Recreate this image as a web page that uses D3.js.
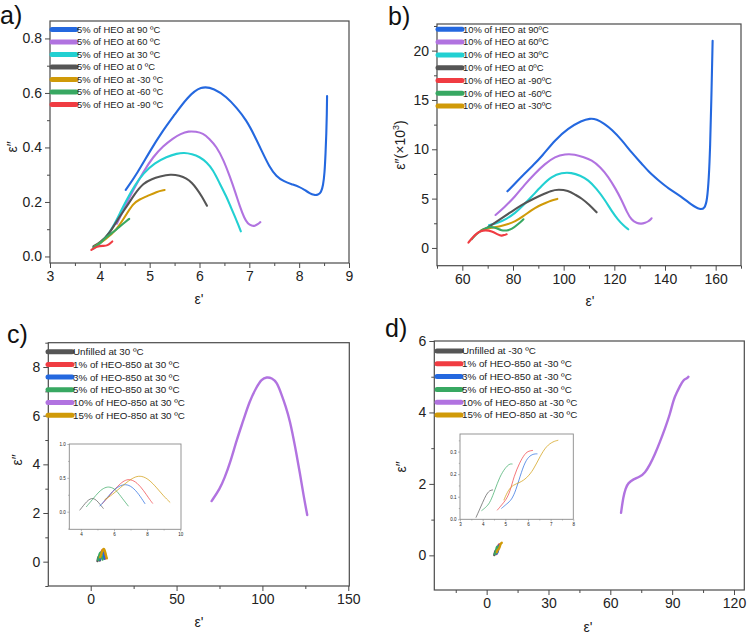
<!DOCTYPE html>
<html><head><meta charset="utf-8">
<script src="https://cdn.jsdelivr.net/npm/d3@7/dist/d3.min.js"></script>
<style>body{margin:0;background:#fff}svg{display:block}</style>
</head><body>
<script>
// ---------- DATA ----------
// Panel a: 5% HEO at various temperatures (ε', ε″)
const aLabels = ["5% of HEO at 90 \u00BAC","5% of HEO at 60 \u00BAC","5% of HEO at 30 \u00BAC","5% of HEO at 0 \u00BAC","5% of HEO at -30 \u00BAC","5% of HEO at -60 \u00BAC","5% of HEO at -90 \u00BAC"];
const a90 = [[4.52,0.244],[4.75,0.305],[5.0,0.385],[5.25,0.458],[5.5,0.52],[5.75,0.583],[6.03,0.627],[6.3,0.616],[6.54,0.586],[6.75,0.545],[6.94,0.50],[7.1,0.445],[7.27,0.379],[7.4,0.33],[7.54,0.293],[7.7,0.275],[7.85,0.265],[8.0,0.256],[8.12,0.243],[8.21,0.232],[8.3,0.225],[8.38,0.226],[8.44,0.235],[8.48,0.26],[8.51,0.305],[8.53,0.38],[8.545,0.45],[8.555,0.52],[8.56,0.589]];
const a60 = [[4.34,0.12],[4.5,0.18],[4.67,0.244],[4.87,0.31],[5.07,0.366],[5.27,0.405],[5.47,0.434],[5.62,0.45],[5.78,0.46],[5.93,0.458],[6.07,0.452],[6.2,0.432],[6.34,0.403],[6.48,0.355],[6.61,0.293],[6.72,0.235],[6.81,0.183],[6.9,0.14],[6.97,0.12],[7.05,0.112],[7.11,0.112],[7.17,0.118],[7.22,0.126]];
const a30 = [[3.88,0.03],[4.0,0.045],[4.15,0.075],[4.3,0.12],[4.42,0.165],[4.54,0.208],[4.7,0.26],[4.87,0.305],[5.1,0.343],[5.34,0.366],[5.55,0.378],[5.69,0.381],[5.85,0.376],[6.0,0.366],[6.15,0.345],[6.27,0.318],[6.4,0.27],[6.54,0.22],[6.63,0.18],[6.71,0.147],[6.78,0.115],[6.83,0.092]];
const a0 = [[3.87,0.037],[4.0,0.05],[4.2,0.085],[4.37,0.14],[4.54,0.183],[4.7,0.23],[4.87,0.269],[5.05,0.285],[5.2,0.293],[5.42,0.302],[5.6,0.297],[5.74,0.287],[5.85,0.27],[5.94,0.25],[6.05,0.22],[6.15,0.186]];
const aM30 = [[3.9,0.037],[4.1,0.06],[4.34,0.098],[4.5,0.145],[4.67,0.195],[4.8,0.21],[4.94,0.22],[5.14,0.238],[5.3,0.244]];
const aM60 = [[3.86,0.03],[4.0,0.048],[4.14,0.073],[4.28,0.09],[4.4,0.11],[4.5,0.125],[4.59,0.138]];
const aM90 = [[3.83,0.024],[3.94,0.037],[4.07,0.039],[4.15,0.039],[4.25,0.055]];
const aXTicks = [3,4,5,6,7,8,9];
const aYTicks = [0,0.2,0.4,0.6,0.8];

// Panel b: 10% HEO (ε″ ×10^3)
const bLabels = ["10% of HEO at 90\u00BAC","10% of HEO at 60\u00BAC","10% of HEO at 30\u00BAC","10% of HEO at 0\u00BAC","10% of HEO at -90\u00BAC","10% of HEO at -60\u00BAC","10% of HEO at -30\u00BAC"];
const b90 = [[77.8,5.74],[81,6.6],[84.7,7.57],[88,8.4],[91.3,9.26],[96.6,10.95],[101.8,12.13],[107.1,12.9],[110.4,13.14],[113,13.05],[116,12.6],[119,12.0],[122.9,10.95],[127,9.6],[130.7,8.58],[134,7.6],[137.3,6.89],[141.2,6.05],[146.5,5.2],[150.5,4.36],[153.8,3.85],[155.7,4.02],[156.6,4.8],[157.3,7],[157.8,10],[158.3,15],[158.8,21]];
const b60 = [[73.1,3.34],[76.5,4.1],[80.8,5.2],[84.5,6.4],[88.7,7.57],[92.5,8.5],[96.6,9.26],[100.5,9.53],[104.4,9.5],[108,9.2],[111,8.92],[114.5,8.2],[117.6,7.23],[120.5,6.0],[122.9,4.86],[125,3.6],[126.8,2.84],[128.8,2.5],[130.7,2.43],[132.2,2.55],[133.4,2.67],[134.7,3.0]];
const b30 = [[70.5,2.3],[74.2,2.55],[77.5,2.95],[80.8,3.51],[84,4.3],[87.4,5.2],[91.3,6.3],[95.2,7.23],[99.2,7.63],[103.1,7.63],[106.5,7.35],[109.7,6.89],[113,6.0],[116.3,4.86],[119,3.7],[121.5,2.84],[123.5,2.3],[125.5,1.89]];
const b0 = [[68.9,1.9],[72,2.4],[75.5,3.0],[79.5,3.7],[83.4,4.36],[87.4,4.9],[91.3,5.37],[95,5.8],[97.9,5.95],[101.8,5.81],[104.5,5.4],[107.1,5.03],[110,4.4],[113,3.61]];
const bM90 = [[62.4,0.54],[64,1.05],[65.7,1.49],[67.3,1.7],[68.9,1.82],[71.6,1.72],[74.2,1.32],[75.5,1.22],[76.5,1.3],[77.5,1.39]];
const bM60 = [[63.7,0.88],[65.5,1.4],[67.6,1.82],[69.5,2.05],[71.6,2.16],[73.5,2.0],[75.5,1.76],[77.5,1.75],[79.5,1.89],[82,2.4],[84.1,2.9]];
const bM30 = [[67.6,1.82],[71.6,2.05],[75.5,2.23],[78,2.4],[80.8,2.67],[84,3.2],[87.4,3.85],[90,4.25],[92.6,4.53],[95,4.8],[97.5,4.97]];
const bXTicks = [60,80,100,120,140,160];
const bYTicks = [0,5,10,15,20];

// Panel c: HEO-850 loadings at 30 °C
const cLabels = ["Unfilled at 30 \u00BAC","1% of HEO-850 at 30 \u00BAC","3% of HEO-850 at 30 \u00BAC","5% of HEO-850 at 30 \u00BAC","10% of HEO-850 at 30 \u00BAC","15% of HEO-850 at 30 \u00BAC"];
const cUnfilled = [[3.94,0.025],[4.15,0.09],[4.35,0.15],[4.55,0.19],[4.74,0.2],[4.95,0.17],[5.15,0.11],[5.35,0.05]];
const cP1 = [[5.3,0.12],[5.6,0.2],[6.0,0.32],[6.4,0.42],[6.7,0.47],[7.0,0.48],[7.4,0.43],[7.8,0.31],[8.1,0.2],[8.33,0.125]];
const cP3 = [[5.15,0.085],[5.5,0.18],[5.9,0.3],[6.3,0.38],[6.7,0.41],[7.1,0.37],[7.5,0.26],[7.87,0.12]];
const cP5 = [[4.34,0.075],[4.7,0.18],[5.1,0.3],[5.45,0.36],[5.75,0.37],[6.1,0.33],[6.4,0.23],[6.86,0.085]];
const cP10 = [[70.4,2.49],[75.3,3.0],[78,3.45],[81.1,4.04],[85,5.0],[88.9,5.81],[92.5,6.6],[96.6,7.18],[99.5,7.5],[102.5,7.59],[105.5,7.55],[108.3,7.39],[111,6.9],[113.5,6.4],[116,5.81],[119,4.75],[121.9,3.62],[124,2.7],[126.1,1.92]];
const cP15 = [[5.45,0.18],[5.9,0.25],[6.4,0.36],[6.9,0.46],[7.3,0.52],[7.67,0.53],[8.1,0.48],[8.6,0.35],[9.0,0.23],[9.38,0.14]];
const cXTicks = [0,50,100,150];
const cYTicks = [0,2,4,6,8];
const cInsetXTicks = [4,6,8,10];
const cInsetYTicks = [0,0.5,1.0];

// Panel d: HEO-850 loadings at -30 °C
const dLabels = ["Unfilled at -30 \u00BAC","1% of HEO-850 at -30 \u00BAC","3% of HEO-850 at -30 \u00BAC","5% of HEO-850 at -30 \u00BAC","10% of HEO-850 at -30 \u00BAC","15% of HEO-850 at -30 \u00BAC"];
const dUnfilled = [[3.71,0.009],[3.85,0.04],[4.0,0.075],[4.15,0.108],[4.3,0.128],[4.44,0.13]];
const dP1 = [[4.65,0.041],[4.84,0.064],[5.03,0.086],[5.21,0.123],[5.38,0.19],[5.62,0.249],[5.87,0.293],[6.05,0.303],[6.2,0.305]];
const dP3 = [[4.84,0.049],[5.06,0.068],[5.28,0.086],[5.47,0.13],[5.65,0.19],[5.87,0.256],[6.09,0.283],[6.28,0.29],[6.4,0.29]];
const dP5 = [[3.96,0.039],[4.18,0.056],[4.35,0.079],[4.54,0.13],[4.76,0.19],[4.99,0.227],[5.18,0.246],[5.3,0.245]];
const dP10 = [[65.2,1.19],[66.3,1.64],[67.4,1.875],[68.7,2.03],[71.2,2.13],[74.4,2.2],[76.8,2.31],[79.2,2.53],[81.7,2.84],[84.1,3.18],[86.5,3.55],[89,3.96],[90.6,4.35],[92.2,4.55],[93.8,4.74],[95.4,4.91],[97,4.95],[97.9,5.0]];
const dP15 = [[4.94,0.086],[5.13,0.13],[5.35,0.153],[5.65,0.163],[5.94,0.182],[6.24,0.219],[6.53,0.279],[6.82,0.326],[7.12,0.345],[7.32,0.35]];
const dXTicks = [0,30,60,90,120];
const dYTicks = [0,2,4,6];
const dInsetXTicks = [3,4,5,6,7,8];
const dInsetYTicks = [0,0.1,0.2,0.3];

// ---------- STYLE ----------
const C = {blue:"#2468df",purple:"#b173e0",cyan:"#22d0d2",gray:"#555555",gold:"#d09a08",green:"#38a862",red:"#f03c42"};
const FONT = "'Liberation Sans', Arial, sans-serif";

const svg = d3.select("body").append("svg").attr("width",749).attr("height",638)
  .style("font-family",FONT);

function midpoints(t){const m=[];const step=t[1]-t[0];m.push(t[0]-step/2);for(let i=0;i<t.length;i++)m.push(t[i]+step/2);return m;}

function drawAxes(g, x, y, o){
  const [l,t,r,b]=o.frame;
  const fs=o.fontSize||14, tl=o.tick||5, ml=o.minor||3, col=o.axisColor||"#4a4a4a";
  const gx=g.append("g").attr("transform",`translate(0,${b})`)
    .call(d3.axisBottom(x).tickValues(o.xTicks).tickSize(tl).tickSizeOuter(0).tickPadding(o.pad||3).tickFormat(o.fx||d3.format("d")));
  const gxm=g.append("g").attr("transform",`translate(0,${b})`)
    .call(d3.axisBottom(x).tickValues(midpoints(o.xTicks).filter(v=>v>=x.domain()[0]&&v<=x.domain()[1])).tickSize(ml).tickFormat(""));
  const gy=g.append("g").attr("transform",`translate(${l},0)`)
    .call(d3.axisLeft(y).tickValues(o.yTicks).tickSize(tl).tickSizeOuter(0).tickPadding(o.pad||3).tickFormat(o.fy||d3.format("d")));
  const gym=g.append("g").attr("transform",`translate(${l},0)`)
    .call(d3.axisLeft(y).tickValues(midpoints(o.yTicks).filter(v=>v>=y.domain()[0]&&v<=y.domain()[1])).tickSize(ml).tickFormat(""));
  [gx,gxm,gy,gym].forEach(a=>{a.select(".domain").remove();a.selectAll("line").attr("stroke",col).attr("stroke-width",o.tw||1);
    a.selectAll("text").attr("font-size",fs).attr("fill","#222").style("font-family",FONT);});
  g.append("rect").attr("x",l).attr("y",t).attr("width",r-l).attr("height",b-t)
    .attr("fill","none").attr("stroke",col).attr("stroke-width",o.fw||1.2);
}

function lines(g,x,y,list,w,op){
  const line=d3.line().x(d=>x(d[0])).y(d=>y(d[1])).curve(d3.curveBasis);
  list.forEach(([data,color])=>{
    g.append("path").datum(data).attr("d",line).attr("fill","none").attr("stroke",color)
     .attr("stroke-width",w).attr("stroke-linejoin","round").attr("stroke-linecap","round").attr("opacity",op||1);
  });
}

function legend(g,x0,x1,y0,dy,labels,colors,fs){
  labels.forEach((lab,i)=>{
    const yy=y0+i*dy;
    g.append("line").attr("x1",x0).attr("x2",x1).attr("y1",yy).attr("y2",yy)
     .attr("stroke",colors[i]).attr("stroke-width",5).attr("stroke-linecap","round");
    g.append("text").attr("x",x1+1).attr("y",yy).attr("dy","0.35em").attr("font-size",fs).attr("fill","#222").text(lab);
  });
}

function labelText(x,y,fs,rot){
  return svg.append("text").attr("font-size",fs).attr("fill","#222").attr("text-anchor","middle")
    .attr("transform",`translate(${x},${y})`+(rot?" rotate(-90)":""));
}

// ---------- PANEL A ----------
{
  const fr=[50,21,349,263];
  const x=d3.scaleLinear().domain([3,9]).range([fr[0],fr[2]]);
  const y=d3.scaleLinear().domain([-0.024,0.864]).range([fr[3],fr[1]]);
  const g=svg.append("g");
  drawAxes(g,x,y,{frame:fr,xTicks:aXTicks,yTicks:aYTicks,fy:d3.format(".1f")});
  lines(g,x,y,[[a90,C.blue],[a60,C.purple],[a30,C.cyan],[a0,C.gray],[aM30,C.gold],[aM60,C.green],[aM90,C.red]],2.1);
  legend(g,52,76,29.5,12.5,aLabels,[C.blue,C.purple,C.cyan,C.gray,C.gold,C.green,C.red],9.4);
  labelText(199,304,14).text("\u03B5'");
  labelText(17,147,14,true).text("\u03B5\u2033");
  svg.append("text").attr("x",0).attr("y",24).attr("font-size",25).attr("fill","#111").text("a)");
}

// ---------- PANEL B ----------
{
  const fr=[437,24,741,265.7];
  const x=d3.scaleLinear().domain([50,170]).range([fr[0],fr[2]]);
  const y=d3.scaleLinear().domain([-1.8,22.7]).range([fr[3],fr[1]]);
  const g=svg.append("g");
  drawAxes(g,x,y,{frame:fr,xTicks:bXTicks,yTicks:bYTicks});
  lines(g,x,y,[[b90,C.blue],[b60,C.purple],[b30,C.cyan],[b0,C.gray],[bM30,C.gold],[bM60,C.green],[bM90,C.red]],2.1);
  legend(g,438,462,29.3,12.8,bLabels,[C.blue,C.purple,C.cyan,C.gray,C.red,C.green,C.gold],9.4);
  labelText(590,306,14).text("\u03B5'");
  const yl=labelText(405,145,14,true);
  yl.append("tspan").text("\u03B5\u2033(\u00D710");
  yl.append("tspan").attr("font-size",9).attr("dy",-6).text("3");
  yl.append("tspan").attr("dy",6).text(")");
  svg.append("text").attr("x",388).attr("y",25).attr("font-size",25).attr("fill","#111").text("b)");
}

// ---------- PANEL C ----------
{
  const fr=[48.3,342.7,349.3,586];
  const x=d3.scaleLinear().domain([-24.7,150.6]).range([fr[0],fr[2]]);
  const y=d3.scaleLinear().domain([-1,9]).range([fr[3],fr[1]]);
  const g=svg.append("g");
  drawAxes(g,x,y,{frame:fr,xTicks:cXTicks,yTicks:cYTicks});
  const ser=[[cUnfilled,C.gray],[cP1,C.red],[cP3,C.blue],[cP5,C.green],[cP10,C.purple],[cP15,C.gold]];
  lines(g,x,y,ser,2.4);
  legend(g,48,72,351.7,12.7,cLabels,[C.gray,C.red,C.blue,C.green,C.purple,C.gold],9.8);
  labelText(199,627,14).text("\u03B5'");
  labelText(22,460,14,true).text("\u03B5\u2033");
  svg.append("text").attr("x",7).attr("y",343).attr("font-size",25).attr("fill","#111").text("c)");
  const ifr=[69.3,444,181,529.3];
  const ix=d3.scaleLinear().domain([3.3,10.05]).range([ifr[0],ifr[2]]);
  const iy=d3.scaleLinear().domain([-0.26,1.0]).range([ifr[3],ifr[1]]);
  const ig=svg.append("g");
  ig.append("rect").attr("x",ifr[0]).attr("y",ifr[1]).attr("width",ifr[2]-ifr[0]).attr("height",ifr[3]-ifr[1]).attr("fill","#fff");
  drawAxes(ig,ix,iy,{frame:ifr,xTicks:cInsetXTicks,yTicks:cInsetYTicks,fy:d3.format(".1f"),fontSize:4.5,tick:2,minor:1.2,pad:1.5,axisColor:"#8a8a8a",tw:0.6,fw:0.9});
  lines(ig,ix,iy,ser.filter(s=>s[0]!==cP10),1,0.7);
}

// ---------- PANEL D ----------
{
  const fr=[434.3,341,744.3,590];
  const x=d3.scaleLinear().domain([-25.4,125]).range([fr[0],fr[2]]);
  const y=d3.scaleLinear().domain([-0.97,6]).range([fr[3],fr[1]]);
  const g=svg.append("g");
  drawAxes(g,x,y,{frame:fr,xTicks:dXTicks,yTicks:dYTicks});
  const ser=[[dUnfilled,C.gray],[dP1,C.red],[dP3,C.blue],[dP5,C.green],[dP10,C.purple],[dP15,C.gold]];
  lines(g,x,y,ser,2.4);
  legend(g,437,461,351,12.8,dLabels,[C.gray,C.red,C.blue,C.green,C.purple,C.gold],9.8);
  labelText(588,632,14).text("\u03B5'");
  labelText(406,467,14,true).text("\u03B5\u2033");
  svg.append("text").attr("x",385).attr("y",337).attr("font-size",25).attr("fill","#111").text("d)");
  const ifr=[460,434,573.3,519.3];
  const ix=d3.scaleLinear().domain([3,8]).range([ifr[0],ifr[2]]);
  const iy=d3.scaleLinear().domain([0,0.378]).range([ifr[3],ifr[1]]);
  const ig=svg.append("g");
  ig.append("rect").attr("x",ifr[0]).attr("y",ifr[1]).attr("width",ifr[2]-ifr[0]).attr("height",ifr[3]-ifr[1]).attr("fill","#fff");
  drawAxes(ig,ix,iy,{frame:ifr,xTicks:dInsetXTicks,yTicks:dInsetYTicks,fy:d3.format(".1f"),fontSize:4.5,tick:2,minor:1.2,pad:1.5,axisColor:"#8a8a8a",tw:0.6,fw:0.9});
  lines(ig,ix,iy,ser.filter(s=>s[0]!==dP10),1,0.7);
}
</script>
</body></html>
